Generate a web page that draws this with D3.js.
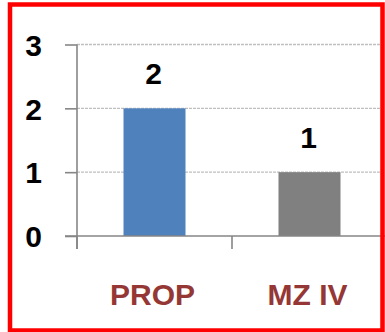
<!DOCTYPE html>
<html>
<head>
<meta charset="utf-8">
<script src="https://cdn.jsdelivr.net/npm/d3@7"></script>
<style>
  html, body { margin: 0; padding: 0; background: #ffffff; }
  svg { display: block; }
</style>
</head>
<body>
<svg id="chart" width="385" height="332"></svg>
<script>
// Chart data
const categories = ["PROP", "MZ IV"];
const values = [2, 1];
const barColors = ["#4F81BD", "#808080"];
const yTicks = [0, 1, 2, 3];

const svg = d3.select("#chart");
const W = 385, H = 332;
const plot = { left: 77, right: 387, top: 44.5, bottom: 236 };

const x = d3.scaleBand().domain(categories).range([plot.left, plot.right]).padding(0);
const y = d3.scaleLinear().domain([0, 3]).range([plot.bottom, plot.top]);

const font = "'Liberation Sans', Arial, sans-serif";

// Horizontal dashed gridlines
svg.append("g")
  .selectAll("line")
  .data(yTicks.filter(d => d > 0))
  .join("line")
  .attr("x1", plot.left).attr("x2", W)
  .attr("y1", d => y(d)).attr("y2", d => y(d))
  .attr("stroke", "#BFBFBF")
  .attr("stroke-width", 1.3)
  .attr("stroke-dasharray", "3,1");

// Bars
const barW = x.bandwidth() * 0.4;
svg.append("g")
  .selectAll("rect")
  .data(categories)
  .join("rect")
  .attr("x", d => x(d) + x.bandwidth() / 2 - barW / 2)
  .attr("y", (d, i) => y(values[i]))
  .attr("width", barW)
  .attr("height", (d, i) => y(0) - y(values[i]))
  .attr("fill", (d, i) => barColors[i]);

// Y axis
const yAxis = svg.append("g")
  .attr("transform", `translate(${plot.left},0)`)
  .call(d3.axisLeft(y).tickValues(yTicks).tickFormat(d3.format("d")).tickSize(12).tickPadding(23));
yAxis.select(".domain").remove();
yAxis.selectAll(".tick line").attr("stroke", "#868686").attr("stroke-width", 1.6);
yAxis.selectAll(".tick text")
  .attr("fill", "#000")
  .attr("font-family", font)
  .attr("font-weight", "bold")
  .attr("font-size", 30)
  .attr("dy", "0.36em");
svg.append("line")
  .attr("x1", plot.left).attr("x2", plot.left)
  .attr("y1", y(3)).attr("y2", y(0) + 13)
  .attr("stroke", "#868686").attr("stroke-width", 1.6);

// X axis baseline and category boundary ticks
svg.append("line")
  .attr("x1", plot.left - 12).attr("x2", W)
  .attr("y1", y(0)).attr("y2", y(0))
  .attr("stroke", "#868686").attr("stroke-width", 1.6);
const bounds = categories.map(c => x(c)).concat([x.range()[1]]);
svg.append("g")
  .selectAll("line")
  .data(bounds)
  .join("line")
  .attr("x1", d => d).attr("x2", d => d)
  .attr("y1", y(0)).attr("y2", y(0) + 13)
  .attr("stroke", "#868686").attr("stroke-width", 1.6);

// Category labels
svg.append("g")
  .selectAll("text")
  .data(categories)
  .join("text")
  .attr("x", d => x(d) + x.bandwidth() / 2 - 2)
  .attr("y", 305)
  .attr("text-anchor", "middle")
  .attr("fill", "#953735")
  .attr("font-family", font)
  .attr("font-weight", "bold")
  .attr("font-size", 30)
  .text(d => d);

// Value labels above bars
svg.append("g")
  .selectAll("text")
  .data(categories)
  .join("text")
  .attr("x", d => x(d) + x.bandwidth() / 2 - 1)
  .attr("y", (d, i) => y(values[i]) - 24)
  .attr("text-anchor", "middle")
  .attr("fill", "#000")
  .attr("font-family", font)
  .attr("font-weight", "bold")
  .attr("font-size", 30)
  .text((d, i) => values[i]);

// Red frame
svg.append("rect")
  .attr("x", 10).attr("y", 4.5)
  .attr("width", 372.5).attr("height", 326)
  .attr("fill", "none")
  .attr("stroke", "#FF0000")
  .attr("stroke-width", 4.5);
</script>
</body>
</html>
